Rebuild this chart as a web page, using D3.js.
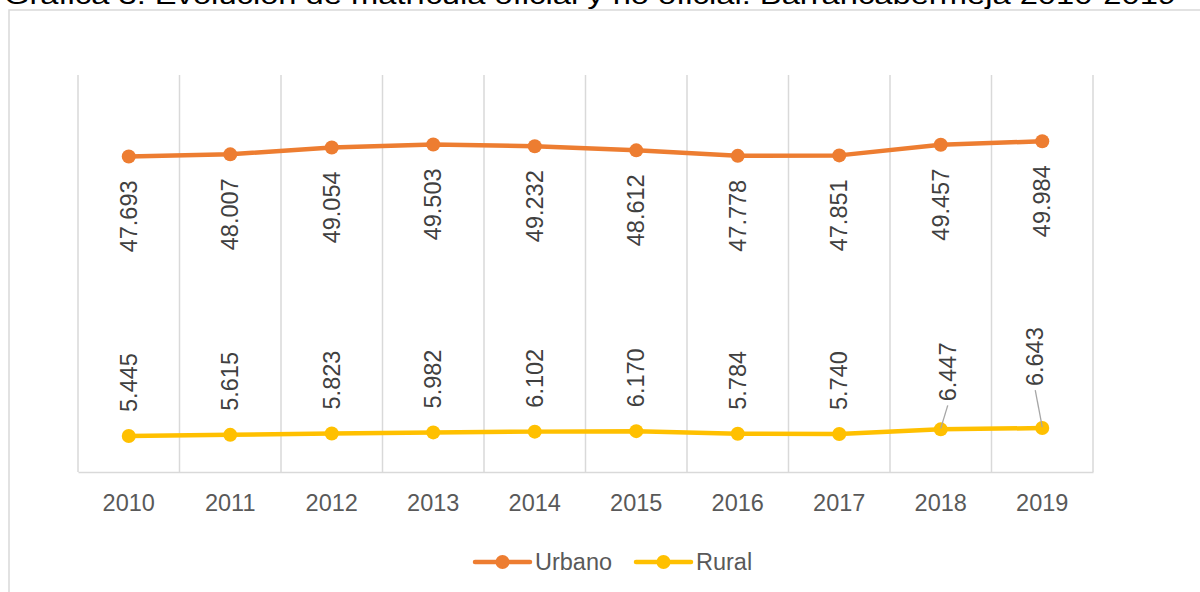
<!DOCTYPE html>
<html>
<head>
<meta charset="utf-8">
<script src="https://cdn.jsdelivr.net/npm/d3@7"></script>
<style>
  body { margin: 0; background: #fff; }
  svg { display: block; font-family: "Liberation Sans", Arial, sans-serif; }
</style>
</head>
<body>
<div id="chart"></div>
<script>
"use strict";

const years = ['2010', '2011', '2012', '2013', '2014', '2015', '2016', '2017', '2018', '2019']
const urbano = [47693, 48007, 49054, 49503, 49232, 48612, 47778, 47851, 49457, 49984]
const rural = [5445, 5615, 5823, 5982, 6102, 6170, 5784, 5740, 6447, 6643]
// label nudges (dx, dy) where the original moved a label and drew a leader line
const ruralNudge = { '2018': [7, -4], '2019': [-7, -18] }

const W = 1200, H = 592
const m = { left: 78, right: 1093, top: 75, bottom: 472 }
const FS = 23.5
const fmt = v => d3.format(',')(v).replace(/,/g, '.')

const svg = d3.select('#chart').append('svg')
  .attr('width', W)
  .attr('height', H)

// chart frame and title (the top of the title is cut off in the original)
svg.append('rect')
  .attr('x', 9).attr('y', 10)
  .attr('width', W).attr('height', H)
  .attr('fill', 'none')
  .attr('stroke', '#d9d9d9')
  .attr('stroke-width', 1.5)

svg.append('text')
  .attr('x', 4).attr('y', 4)
  .attr('font-size', 26)
  .attr('fill', '#000')
  .attr('textLength', 1172)
  .attr('lengthAdjust', 'spacingAndGlyphs')
  .text('Gráfica 3.   Evolución de matrícula oficial y no oficial. Barrancabermeja 2010-2019')

const x = d3.scaleBand().domain(years).range([m.left, m.right])
const y = d3.scaleLinear().domain([0, 60000]).range([m.bottom, m.top])
const cx = d => x(d) + x.bandwidth() / 2

// vertical gridlines at category boundaries
svg.append('g').selectAll('line')
  .data(years.concat(['end']))
  .enter().append('line')
    .attr('x1', (d, i) => m.left + i * x.bandwidth())
    .attr('x2', (d, i) => m.left + i * x.bandwidth())
    .attr('y1', m.top)
    .attr('y2', m.bottom)
    .attr('stroke', '#d9d9d9')
    .attr('stroke-width', 1.5)

const axisG = svg.append('g')
  .attr('transform', `translate(0,${m.bottom})`)
  .call(d3.axisBottom(x).tickSize(0).tickPadding(22))
axisG.select('.domain').attr('stroke', '#d9d9d9').attr('stroke-width', 1.5)
axisG.selectAll('text')
  .attr('font-size', FS)
  .attr('fill', '#595959')
  .attr('font-family', '"Liberation Sans", Arial, sans-serif')

const series = [
  { name: 'Urbano', values: urbano, color: '#ED7D31' },
  { name: 'Rural', values: rural, color: '#FFC000' },
]

const line = d3.line()
  .x((d, i) => cx(years[i]))
  .y(d => y(d))

series.forEach(s => {
  svg.append('path')
    .datum(s.values)
    .attr('d', line)
    .attr('fill', 'none')
    .attr('stroke', s.color)
    .attr('stroke-width', 4.5)
    .attr('stroke-linejoin', 'round')

  svg.selectAll(null)
    .data(s.values)
    .enter().append('circle')
      .attr('cx', (d, i) => cx(years[i]))
      .attr('cy', d => y(d))
      .attr('r', 7)
      .attr('fill', s.color)
})

// Urbano labels, rotated, below points
svg.selectAll(null)
  .data(urbano)
  .enter().append('text')
    .attr('transform', (d, i) => `translate(${cx(years[i])},${y(d) + 24}) rotate(-90)`)
    .attr('text-anchor', 'end')
    .attr('dy', '0.35em')
    .attr('font-size', FS)
    .attr('fill', '#404040')
    .text(fmt)

// Rural labels, rotated, above points
rural.forEach((d, i) => {
  const yr = years[i]
  const [dx, dy] = ruralNudge[yr] || [0, 0]
  const px = cx(yr), py = y(d)
  const tx = px + dx, ty = py - 24 + dy
  if (ruralNudge[yr]) {
    svg.append('line')
      .attr('x1', tx).attr('y1', ty + 4)
      .attr('x2', px).attr('y2', py - 1)
      .attr('stroke', '#a6a6a6')
      .attr('stroke-width', 1.3)
  }
  svg.append('text')
    .attr('transform', `translate(${tx},${ty}) rotate(-90)`)
    .attr('text-anchor', 'start')
    .attr('dy', '0.35em')
    .attr('font-size', FS)
    .attr('fill', '#404040')
    .text(fmt(d))
})

// legend
const legend = [
  { name: 'Urbano', color: '#ED7D31', x: 475 },
  { name: 'Rural', color: '#FFC000', x: 636 },
]
const lg = svg.append('g').attr('transform', 'translate(0,562)')
legend.forEach(l => {
  lg.append('line')
    .attr('x1', l.x).attr('x2', l.x + 55)
    .attr('stroke', l.color)
    .attr('stroke-width', 4.5)
    .attr('stroke-linecap', 'round')
  lg.append('circle')
    .attr('cx', l.x + 27.5)
    .attr('r', 7)
    .attr('fill', l.color)
  lg.append('text')
    .attr('x', l.x + 60)
    .attr('dy', '0.35em')
    .attr('font-size', FS)
    .attr('fill', '#595959')
    .text(l.name)
})
</script>
</body>
</html>
